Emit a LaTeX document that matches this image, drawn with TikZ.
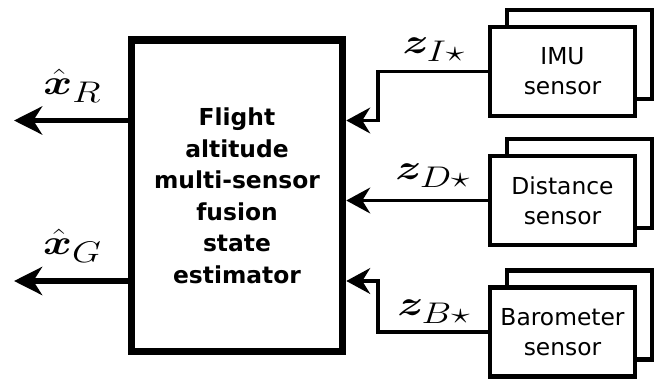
\RequirePackage{fix-cm}
\documentclass[tikz,border=0pt]{standalone}
\usepackage{amsmath}
\usepackage{bm}
\usepackage{graphicx}
\usepackage{fontspec}
\setmainfont{DejaVu Sans}
\usetikzlibrary{arrows.meta}
\DeclareMathSizes{20}{20}{17}{13}

\begin{document}
    \begin{tikzpicture}[
        estbox/.style={draw, line width=4.3pt, minimum width=4.22cm, minimum height=6.23cm, align=center, font=\bfseries\fontsize{13.3}{18}\selectfont},
        sensorbox/.style={draw, fill=white, line width=2.3pt, minimum width=2.9cm, minimum height=1.78cm, align=center, font=\fontsize{13.3}{17}\selectfont},
        outarrow/.style={-{Stealth[length=16pt, width=16pt, inset=5pt]}, line width=3.4pt},
        inarrow/.style={-{Stealth[length=13.6pt, width=14.7pt, inset=4.5pt]}, line width=1.9pt},
        lbl/.style={inner sep=0pt, font=\fontsize{20}{22}\selectfont}
    ]
        \useasboundingbox (0,0) rectangle (13.1,7.58);

        \node[estbox] (est) at (4.74,3.665) {Flight\\altitude\\multi-sensor\\fusion\\state\\estimator};

        \node[sensorbox] (imu-back) at (11.59,6.49) {};
        \node[sensorbox] (imu) at (11.25,6.15) {IMU\\sensor};
        \node[sensorbox] (dist-back) at (11.59,3.91) {};
        \node[sensorbox] (dist) at (11.25,3.57) {Distance\\sensor};
        \node[sensorbox] (baro-back) at (11.59,1.28) {};
        \node[sensorbox] (baro) at (11.25,0.94) {Barometer\\sensor};

        \coordinate (xr) at (0.28,5.17);
        \coordinate (xg) at (0.28,1.96);

        \draw[outarrow] (est.west |- xr) -- (xr);
        \draw[outarrow] (est.west |- xg) -- (xg);

        \draw[inarrow] (imu.west) -- ++(-2.2,0) |- (est.east |- xr);
        \draw[inarrow] (dist.west) -- (est.east |- dist.west);
        \draw[inarrow] (baro.west) -- ++(-2.2,0) |- (est.east |- xg);

        \node[lbl] (xr-label) at (1.45,5.86) {\scalebox{1.25}[1]{$\hat{\bm{x}}_R$}};
        \node[lbl] (xg-label) at (1.45,2.66) {\scalebox{1.25}[1]{$\hat{\bm{x}}_G$}};
        \node[lbl] (zi-label) at (8.68,6.59) {\scalebox{1.25}[1]{$\bm{z}_{I\star}$}};
        \node[lbl] (zd-label) at (8.66,4.06) {\scalebox{1.25}[1]{$\bm{z}_{D\star}$}};
        \node[lbl] (zb-label) at (8.68,1.35) {\scalebox{1.25}[1]{$\bm{z}_{B\star}$}};
    \end{tikzpicture}
\end{document}
